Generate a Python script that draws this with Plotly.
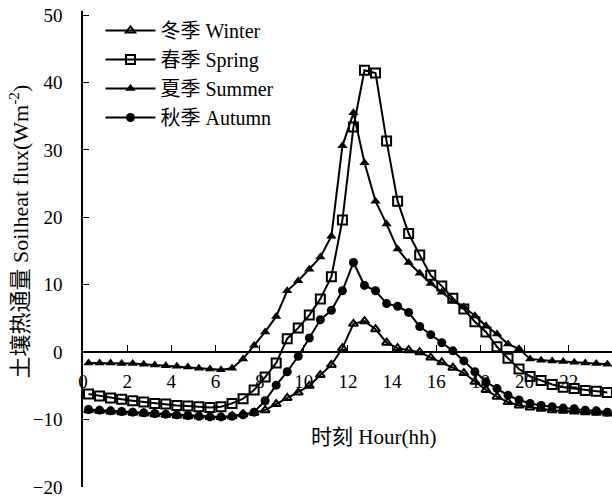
import plotly.graph_objects as go

hours = [0.25 + 0.5 * i for i in range(48)]

winter = [-8.6, -8.7, -8.8, -8.9, -9.0, -9.1, -9.2, -9.3, -9.4, -9.5, -9.5, -9.6,
          -9.6, -9.5, -9.2, -9.0, -8.6, -7.7, -6.8, -6.0, -5.0, -3.4, -1.9, 0.6,
          4.2, 4.6, 3.4, 1.4, 0.6, 0.3, 0.0, -0.8, -1.5, -2.3, -3.1, -4.4,
          -5.6, -6.6, -7.4, -7.9, -8.2, -8.4, -8.6, -8.7, -8.8, -8.9, -9.0, -9.1]
spring = [-6.2, -6.5, -6.8, -7.0, -7.2, -7.4, -7.6, -7.7, -7.9, -8.0, -8.1, -8.2,
          -8.1, -7.6, -6.9, -5.6, -3.7, -1.6, 2.0, 3.6, 5.5, 7.9, 11.2, 19.6,
          33.4, 41.8, 41.4, 31.3, 22.4, 17.6, 14.4, 11.4, 9.8, 8.0, 6.4, 4.5,
          3.0, 0.8, -0.9, -2.5, -3.6, -4.2, -4.8, -5.2, -5.4, -5.7, -5.8, -6.0]
summer = [-1.6, -1.6, -1.6, -1.7, -1.7, -1.8, -1.9, -2.0, -2.1, -2.2, -2.4, -2.5,
          -2.6, -2.4, -1.0, 1.0, 3.0, 5.3, 9.1, 10.6, 12.3, 14.1, 17.2, 30.6,
          35.5, 28.1, 22.4, 19.0, 15.3, 13.3, 11.7, 10.2, 8.9, 7.6, 6.7, 5.4,
          3.9, 2.7, 1.2, 0.5, -1.0, -1.2, -1.3, -1.4, -1.5, -1.6, -1.7, -1.8]
autumn = [-8.5, -8.6, -8.7, -8.8, -8.9, -9.0, -9.1, -9.2, -9.3, -9.4, -9.5, -9.6,
          -9.6, -9.5, -9.3, -8.9, -7.2, -4.9, -2.9, -0.6, 2.1, 4.8, 6.2, 9.1,
          13.3, 9.9, 9.1, 7.2, 6.8, 5.9, 3.8, 2.6, 1.4, 0.2, -1.3, -2.9,
          -4.4, -5.4, -6.4, -7.1, -7.6, -7.9, -8.1, -8.3, -8.4, -8.6, -8.7, -8.9]

series_names = ["冬季 Winter", "春季 Spring", "夏季 Summer", "秋季 Autumn"]
series_values = [winter, spring, summer, autumn]
symbols = ["triangle-up-open", "square-open", "triangle-up", "circle"]
sizes = [8, 9, 9, 9]

x_ticks = list(range(0, 24, 2))
y_ticks = list(range(-20, 51, 10))

FONT = "Liberation Serif, 'Noto Sans CJK SC', serif"

fig = go.Figure()
for name, vals, sym, sz in zip(series_names, series_values, symbols, sizes):
    fig.add_trace(go.Scatter(
        x=hours, y=vals, name=name, mode="lines+markers",
        line=dict(color="black", width=2),
        marker=dict(symbol=sym, size=sz, color="black",
                    line=dict(color="black", width=2 if "open" in sym else 0)),
        legendgroup=name,
    ))

L, T, B, R = 82.5, 11, 9, 0
plot_w = 612 - L - R
plot_h = 496 - T - B
ymin, ymax = -20, 50.6

def px(xs):
    return (xs - L) / plot_w

def py(ys):
    return (496 - B - ys) / plot_h

fig.update_layout(
    width=612, height=496,
    margin=dict(l=L, r=R, t=T, b=B, autoexpand=False),
    paper_bgcolor="white", plot_bgcolor="white",
    font=dict(family=FONT, size=19, color="black"),
    showlegend=True,
    legend=dict(x=px(100), y=py(11), xanchor="left", yanchor="top",
                bgcolor="rgba(0,0,0,0)", font=dict(size=20),
                itemwidth=50, tracegroupgap=0),
    xaxis=dict(range=[0, 23.96], anchor="free",
               position=(0 - ymin) / (ymax - ymin),
               showline=True, linecolor="black", linewidth=1.5,
               ticks="inside", ticklen=6, tickcolor="black", tickwidth=1,
               tickvals=x_ticks, ticktext=[str(t) for t in x_ticks],
               showgrid=False, zeroline=False, ticklabelstandoff=12,
               ticklabeloverflow="allow", tickfont=dict(size=19)),
    yaxis=dict(range=[ymin, ymax], showline=True, linecolor="black", linewidth=1.5,
               ticks="inside", ticklen=6, tickcolor="black", tickwidth=1,
               tickvals=y_ticks, showgrid=False, zeroline=False,
               ticklabelstandoff=15, ticklabeloverflow="allow",
               tickfont=dict(size=19)),
    annotations=[
        dict(text="时刻 Hour(hh)", xref="paper", yref="paper",
             x=px(373), y=py(437), xanchor="center", yanchor="middle",
             showarrow=False, font=dict(size=21)),
        dict(text="土壤热通量 Soilheat flux(Wm<sup>-2</sup>)", xref="paper", yref="paper",
             x=px(18), y=py(232), xanchor="center", yanchor="middle", textangle=-90,
             showarrow=False, font=dict(size=22)),
    ],
)

fig.write_html("out.html", config={"displayModeBar": False},
               post_script="document.body.style.margin='0';")
